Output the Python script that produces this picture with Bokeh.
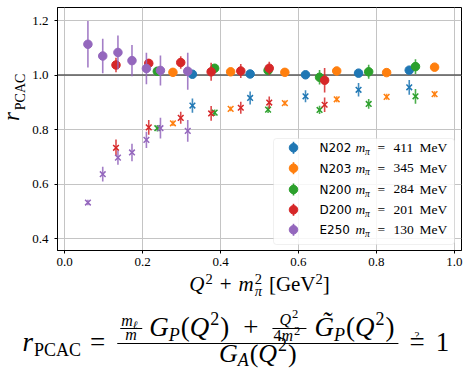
import math
from bokeh.plotting import figure
from bokeh.layouts import column, row
from bokeh.models import Range1d, Label, Span, ColumnDataSource, FixedTicker, BoxAnnotation, PrintfTickFormatter
from bokeh.core.properties import value
from bokeh.embed import file_html
from bokeh.resources import INLINE

# ---------------- data ----------------
ens_names = ["N202", "N203", "N200", "D200", "E250"]
ens_mpi = [411, 345, 284, 201, 130]
ens_colors = ["#1f77b4", "#ff7f0e", "#2ca02c", "#d62728", "#9467bd"]

n202_q2 = [0.328, 0.476, 0.618, 0.754, 0.884]
n202_r = [1.003, 1.004, 1.001, 1.007, 1.018]
n202_r_err = [0.005, 0.005, 0.005, 0.006, 0.007]
n202_rx = [0.888, 0.916, 0.922, 0.946, 0.955]
n202_rx_err = [0.026, 0.024, 0.022, 0.025, 0.027]

n203_q2 = [0.278, 0.426, 0.565, 0.698, 0.826, 0.949]
n203_r = [1.010, 1.012, 1.010, 1.015, 1.009, 1.029]
n203_r_err = [0.004, 0.004, 0.004, 0.005, 0.005, 0.006]
n203_rx = [0.823, 0.876, 0.897, 0.911, 0.920, 0.930]
n203_rx_err = [0.010, 0.009, 0.010, 0.011, 0.011, 0.011]

n200_q2 = [0.238, 0.385, 0.522, 0.654, 0.780, 0.900]
n200_r = [1.014, 1.025, 1.017, 0.992, 1.012, 1.031]
n200_r_err = [0.010, 0.010, 0.012, 0.027, 0.026, 0.027]
n200_rx = [0.805, 0.862, 0.873, 0.872, 0.894, 0.922]
n200_rx_err = [0.012, 0.012, 0.012, 0.015, 0.018, 0.027]

d200_q2 = [0.132, 0.216, 0.298, 0.376, 0.452, 0.525, 0.667]
d200_r = [1.037, 1.043, 1.046, 1.012, 1.015, 1.025, 0.981]
d200_r_err = [0.027, 0.015, 0.023, 0.033, 0.026, 0.024, 0.045]
d200_rx = [0.733, 0.808, 0.843, 0.859, 0.880, 0.899, 0.891]
d200_rx_err = [0.030, 0.027, 0.022, 0.027, 0.022, 0.022, 0.027]

e250_q2 = [0.060, 0.098, 0.137, 0.173, 0.210, 0.246, 0.316]
e250_r = [1.113, 1.070, 1.083, 1.053, 1.024, 1.017, 1.014]
e250_r_err = [0.085, 0.063, 0.062, 0.057, 0.058, 0.055, 0.068]
e250_rx = [0.532, 0.636, 0.697, 0.716, 0.762, 0.805, 0.795]
e250_rx_err = [0.010, 0.027, 0.026, 0.032, 0.030, 0.038, 0.040]

x_ticks = [0.0, 0.2, 0.4, 0.6, 0.8, 1.0]
y_ticks = [0.4, 0.6, 0.8, 1.0, 1.2]
reference_r = 1.0

series = [
    (n202_q2, n202_r, n202_r_err, n202_rx, n202_rx_err),
    (n203_q2, n203_r, n203_r_err, n203_rx, n203_rx_err),
    (n200_q2, n200_r, n200_r_err, n200_rx, n200_rx_err),
    (d200_q2, d200_r, d200_r_err, d200_rx, d200_rx_err),
    (e250_q2, e250_r, e250_r_err, e250_rx, e250_rx_err),
]

W, H = 464, 370
TOP_H = 272      # height of the plot row
YL_W = 29        # width of the y-label strip
SERIF = "Liberation Serif"
MID = 0.34       # baseline offset below the "middle" anchor, in em

# ---------------- main plot ----------------
p = figure(width=W - YL_W, height=TOP_H, x_range=Range1d(-0.018, 1.018), y_range=Range1d(0.356, 1.248),
           output_backend="svg", toolbar_location=None,
           min_border_left=57 - YL_W, min_border_right=3, min_border_top=7, min_border_bottom=TOP_H - 250)
p.background_fill_color = "white"
p.border_fill_color = "white"
p.outline_line_color = "black"
p.outline_line_width = 1

p.extra_x_ranges = {"px": Range1d(57, 461)}
p.extra_y_ranges = {"px": Range1d(H - 250, H - 7)}

for ax in (p.xaxis[0], p.yaxis[0]):
    ax.axis_line_color = "black"
    ax.major_tick_line_color = "black"
    ax.minor_tick_line_color = None
    ax.major_tick_in = 0
    ax.major_tick_out = 3
    ax.major_label_text_font = SERIF
    ax.major_label_text_font_size = "13px"
    ax.major_label_text_color = "black"
    ax.formatter = PrintfTickFormatter(format="%.1f")
p.xaxis.ticker = FixedTicker(ticks=x_ticks)
p.yaxis.ticker = FixedTicker(ticks=y_ticks)
p.xaxis.major_label_standoff = 4
p.yaxis.major_label_standoff = 6
p.xgrid.ticker = FixedTicker(ticks=x_ticks)
p.ygrid.ticker = FixedTicker(ticks=y_ticks)
p.grid.grid_line_color = "#c4c4c4"
p.grid.grid_line_width = 1

p.add_layout(Span(location=reference_r, dimension="width", line_color="#5a5a5a", line_width=1.5, level="underlay"))

for (q, r, re, rx, rxe), col in zip(series, ens_colors):
    src = ColumnDataSource(dict(
        x=q, r=r, r_lo=[a - b for a, b in zip(r, re)], r_hi=[a + b for a, b in zip(r, re)],
        rx=rx, rx_lo=[a - b for a, b in zip(rx, rxe)], rx_hi=[a + b for a, b in zip(rx, rxe)]))
    p.segment(x0="x", x1="x", y0="r_lo", y1="r_hi", source=src, line_color=col, line_width=1.6, line_alpha=0.85)
    p.scatter(x="x", y="r", source=src, marker="circle", size=8.5, fill_color=col, line_color=col)
    p.segment(x0="x", x1="x", y0="rx_lo", y1="rx_hi", source=src, line_color=col, line_width=1.6, line_alpha=0.85)
    p.scatter(x="x", y="rx", source=src, marker="x", size=8, line_color=col, line_width=1.5)

# ---------------- text helpers ----------------
WR = {"(": 0.333, ")": 0.333, "[": 0.333, "]": 0.333, "+": 0.564, "=": 0.564, "?": 0.444,
      "0": 0.5, "1": 0.5, "2": 0.5, "4": 0.5, "G": 0.722, "e": 0.444, "V": 0.722, "P": 0.556,
      "C": 0.667, "A": 0.722, "M": 0.889}
WI = {"Q": 0.722, "m": 0.722, "r": 0.389, "G": 0.722, "P": 0.611, "A": 0.611, "\u2113": 0.42, "\u03c0": 0.5,
      "G\u0303": 0.722}


def tw(t, size, it):
    tab = WI if it else WR
    if t in tab:
        return tab[t] * size
    return sum(tab.get(c, 0.5) for c in t) * size


def put(fig, t, x, y, size, it=False, font=SERIF, rng=None, level="overlay"):
    """x, y: canvas pixel position of the text baseline start."""
    kw = {}
    if rng:
        kw = dict(x_range_name=rng, y_range_name=rng)
    fig.add_layout(Label(x=x, y=H - (y - MID * size), text=t, text_font=font, text_font_size=f"{size}px",
                         text_font_style="italic" if it else "normal", text_color="black",
                         text_baseline="middle", text_align="left", level=level, **kw))


def seq(fig, items, x, y):
    for t, s, it, dy, g in items:
        x += g
        put(fig, t, x, y + dy, s, it)
        x += tw(t, s, it)
    return x


# ---------------- legend (inside the frame) ----------------
p.add_layout(BoxAnnotation(left=273, right=454, top=H - 138, bottom=H - 244, x_range_name="px", y_range_name="px",
                           fill_color="white", fill_alpha=0.85, line_color="#cccccc", line_width=1,
                           border_radius=3, level="guide"))
leg_y = [147.3, 167.7, 189.0, 209.3, 229.3]
leg_src = ColumnDataSource(dict(x=[293] * 5, y=[H - v for v in leg_y], y0=[H - v - 6 for v in leg_y],
                                y1=[H - v + 6 for v in leg_y], c=ens_colors))
p.segment(x0="x", x1="x", y0="y0", y1="y1", source=leg_src, line_color="c", line_width=1.6,
          x_range_name="px", y_range_name="px", level="annotation")
p.scatter(x="x", y="y", source=leg_src, marker="circle", size=8.5, fill_color="c", line_color="c",
          x_range_name="px", y_range_name="px", level="annotation")
for name, mpi, yy in zip(ens_names, ens_mpi, leg_y):
    b = yy + 4.5
    put(p, name, 319, b, 12, font="DejaVu Sans", rng="px")
    put(p, "m", 355, b, 13.5, it=True, rng="px")
    put(p, "\u03c0", 364.5, b + 3, 9.5, it=True, rng="px")
    put(p, "=", 377, b, 13.5, rng="px")
    put(p, f"{mpi}", 393, b, 13.5, rng="px")
    put(p, "MeV", 419, b, 13.5, rng="px")

# ---------------- y-label strip (rotated text glyphs) ----------------
yl = figure(width=YL_W, height=TOP_H, x_range=Range1d(0, YL_W), y_range=Range1d(H - TOP_H, H),
            output_backend="svg", toolbar_location=None, min_border=0,
            x_axis_location=None, y_axis_location=None)
yl.grid.visible = False
yl.outline_line_color = None
yl.background_fill_color = "white"
yl.border_fill_color = "white"
ylab_src = ColumnDataSource(dict(x=[18.5 - MID * 23], y=[H - 127], t=["r"]))
yl.text(x="x", y="y", text="t", source=ylab_src, angle=math.pi / 2, text_font=value(SERIF),
        text_font_size=value("23px"), text_font_style=value("italic"), text_color="black",
        text_baseline="middle", text_align="left")
ylab_src2 = ColumnDataSource(dict(x=[25.0 - MID * 14], y=[H - 115], t=["PCAC"]))
yl.text(x="x", y="y", text="t", source=ylab_src2, angle=math.pi / 2, text_font=value(SERIF),
        text_font_size=value("14px"), text_color="black",
        text_baseline="middle", text_align="left")

# ---------------- bottom strip: x-label and formula ----------------
BOT_H = H - TOP_H
f = figure(width=W, height=BOT_H, x_range=Range1d(0, W), y_range=Range1d(0, BOT_H),
           output_backend="svg", toolbar_location=None, min_border=0,
           x_axis_location=None, y_axis_location=None)
f.grid.visible = False
f.outline_line_color = None
f.background_fill_color = "white"
f.border_fill_color = "white"


def bar(x0, x1, y, th=1.2):
    f.add_layout(BoxAnnotation(left=x0, right=x1, bottom=H - y - th / 2, top=H - y + th / 2,
                               fill_color="black", fill_alpha=1, line_color=None, level="overlay"))


# x-axis label
XB, XF, XS = 291, 21, 14.5
xl1 = [("Q", XF, True, 0, 0), ("2", XS, False, -8, 1), ("+", XF, False, 0, 7), ("m", XF, True, 0, 7)]
xl2 = [("[GeV", XF, False, 0, 7), ("2", XS, False, -8, 0), ("]", XF, False, 0, 0)]
w_tot = sum(tw(t, s, i) + g for t, s, i, d, g in xl1 + xl2) + 1 + tw("2", XS, False)
x0 = 259 - w_tot / 2
xe = seq(f, xl1, x0, XB)
put(f, "2", xe + 1, XB - 8, XS)
put(f, "\u03c0", xe + 1, XB + 4, XS, it=True)
seq(f, xl2, xe + 1 + tw("2", XS, False), XB)

# formula
F, S, T, SF, DF = 27, 18, 12.5, 16, 26
base = 351
barY = 343
numB = 335.5
denB = 361.5
x = 22
put(f, "r", x, base, F, it=True)
x += tw("r", F, True) + 1
put(f, "PCAC", x, base + 5, S)
x += tw("PCAC", S, False) + 9
put(f, "=", x, base, F)
x += tw("=", F, False) + 12
fx0 = x
x += 3
# small fraction m_l / m
put(f, "m", x + 1, numB - 10, SF, it=True)
put(f, "\u2113", x + 1 + tw("m", SF, True), numB - 7.5, 11.5, it=True)
bar(x, x + 22, numB - 7.5, 0.9)
put(f, "m", x + 5, numB + 4, SF, it=True)
x += 29
x = seq(f, [("G", F, True, 0, 0), ("P", S, True, 5, 0), ("(", F, False, 0, 1), ("Q", F, True, 0, 0),
            ("2", S, False, -11, 1), (")", F, False, 0, 1), ("+", F, False, 0, 14)], x, numB)
x += 14
# small fraction Q^2 / 4m^2
put(f, "Q", x + 7, numB - 11, SF, it=True)
put(f, "2", x + 7 + tw("Q", SF, True) + 1, numB - 18, T)
bar(x, x + 34, numB - 7.5, 0.9)
put(f, "4", x + 1, numB + 5, SF)
put(f, "m", x + 1 + tw("4", SF, False), numB + 5, SF, it=True)
put(f, "2", x + 1 + tw("4", SF, False) + tw("m", SF, True) + 1, numB - 1, T)
x += 42
x = seq(f, [("G\u0303", F, True, 0, 0), ("P", S, True, 5, 0), ("(", F, False, 0, 1), ("Q", F, True, 0, 0),
            ("2", S, False, -11, 1), (")", F, False, 0, 1)], x, numB)
fx1 = x + 4
bar(fx0, fx1, barY, 1.2)
# denominator
dw = (tw("G", DF, True) + tw("A", S, True) + 1 + tw("(", DF, False) + tw("Q", DF, True) + 1
      + tw("2", S, False) + 1 + tw(")", DF, False))
seq(f, [("G", DF, True, 0, 0), ("A", S, True, 4, 0), ("(", DF, False, 0, 1), ("Q", DF, True, 0, 0),
        ("2", S, False, -11, 1), (")", DF, False, 0, 1)], (fx0 + fx1) / 2 - dw / 2, denB)
xq2 = fx1 + 11
put(f, "=", xq2, base, F)
put(f, "?", xq2 + 5, base - 13, 11)
put(f, "1", xq2 + tw("=", F, False) + 11, base, F)

layout = column(row(yl, p, spacing=0), f, spacing=0)
open("out.html", "w").write(file_html(layout, INLINE))
